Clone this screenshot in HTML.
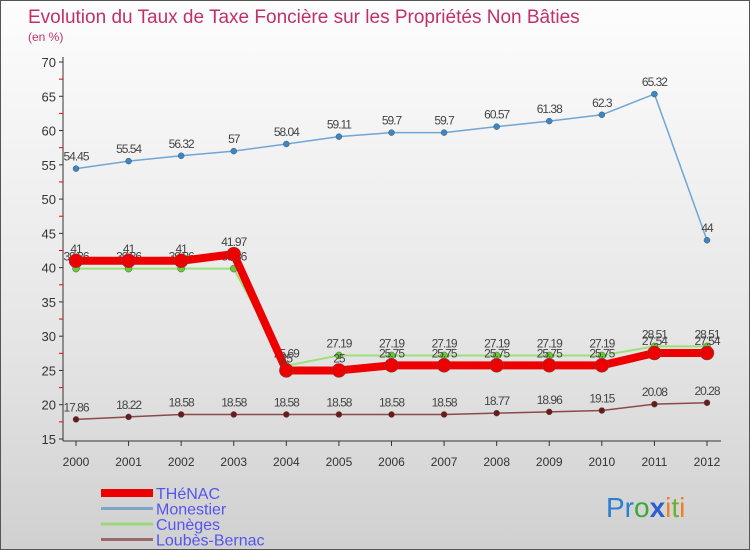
<!DOCTYPE html>
<html><head><meta charset="utf-8"><style>
body{margin:0}
#w{width:748px;height:548px;border:1px solid #555;background:linear-gradient(#fdfdfd,#e6e6e6 60%,#d0d0d0);position:relative;font-family:"Liberation Sans",sans-serif;overflow:hidden}
</style></head><body>
<div id="w">
<svg id="s" width="748" height="548">
<text x="27" y="22" font-size="19" fill="#c0306a">Evolution du Taux de Taxe Foncière sur les Propriétés Non Bâties</text>
<text x="27" y="40" font-size="12" fill="#c0306a">(en %)</text>
<text x="605" y="516" font-size="28" fill="#2a7fd0">Pr<tspan fill="#3aa83a">o</tspan><tspan fill="#2a5fd0" font-weight="bold">x</tspan><tspan fill="#f08020">i</tspan><tspan fill="#70b030">t</tspan><tspan fill="#f08020">i</tspan></text>
</svg>
</div>
<script>
const years=[2000,2001,2002,2003,2004,2005,2006,2007,2008,2009,2010,2011,2012];
const yTicks=[15,20,25,30,35,40,45,50,55,60,65,70];
const thenac=[41,41,41,41.97,25,25,25.75,25.75,25.75,25.75,25.75,27.54,27.54];
const monestier=[54.45,55.54,56.32,57,58.04,59.11,59.7,59.7,60.57,61.38,62.3,65.32,44];
const cuneges=[39.86,39.86,39.86,39.86,25.69,27.19,27.19,27.19,27.19,27.19,27.19,28.51,28.51];
const loubes=[17.86,18.22,18.58,18.58,18.58,18.58,18.58,18.58,18.77,18.96,19.15,20.08,20.28];
const NS="http://www.w3.org/2000/svg",s=document.getElementById('s');
const X=i=>75+i*(706-75)/(years.length-1);
const Y=v=>438-(v-15)*(438-61)/55;
function el(t,a,p){const e=document.createElementNS(NS,t);for(const k in a)e.setAttribute(k,a[k]);(p||s).appendChild(e);return e;}
const ax=el('line',{x1:62,y1:56,x2:62,y2:440,stroke:'#333'});


const bx=el('line',{x1:62,y1:440,x2:720,y2:440,stroke:'#333'});


yTicks.forEach(v=>{const y=Y(v);
el('line',{x1:58,y1:y,x2:62,y2:y,stroke:'#333'});
if(v<70){el('line',{x1:58,y1:Y(v+2.5),x2:62,y2:Y(v+2.5),stroke:'#e00'});}
const t=el('text',{x:55,y:y+5,'font-size':13,fill:'#333','text-anchor':'end'});t.textContent=v;

});
years.forEach((yr,i)=>{const x=X(i);el('line',{x1:x,y1:440,x2:x,y2:445,stroke:'#333'});
const t=el('text',{x:x,y:465,'font-size':12,fill:'#333','text-anchor':'middle'});t.textContent=yr;

});
function series(name,data,color,w,r,dot){
const g=el('g',{});
const p=el('polyline',{points:data.map((v,i)=>X(i)+','+Y(v)).join(' '),fill:'none',stroke:color,'stroke-width':w,'stroke-linejoin':'round'},g);


data.forEach((v,i)=>{const c=el('circle',{cx:X(i),cy:Y(v),r:r,fill:dot,stroke:'#555','stroke-width':0.5},g);


const t=el('text',{x:X(i),y:Y(v)-8,'font-size':12,fill:'#444','text-anchor':'middle','letter-spacing':'-1'},g);t.textContent=v;

});}
series('loubes-bernac',loubes,'#8b4a4a',1.5,3,'#6b1a1a');
series('monestier',monestier,'#6fa6d6',1.5,3,'#3a86c8');
series('cuneges',cuneges,'#9be07a',2,3.5,'#66cc33');
series('thenac',thenac,'#ee0000',8,7,'#ee0000');
const leg=[['THéNAC','#ee0000',8],['Monestier','#7aa6c8',3],['Cunèges','#9bd87a',3],['Loubès-Bernac','#9a6a6a',3]];
leg.forEach((l,i)=>{const y=492+i*15.5;const g=el('g',{});


el('line',{x1:100,y1:y,x2:152,y2:y,stroke:l[1],'stroke-width':l[2]},g);
const t=el('text',{x:155,y:y+6,'font-size':16,fill:'#5555ee'},g);t.textContent=l[0];});
</script>
</body></html>
